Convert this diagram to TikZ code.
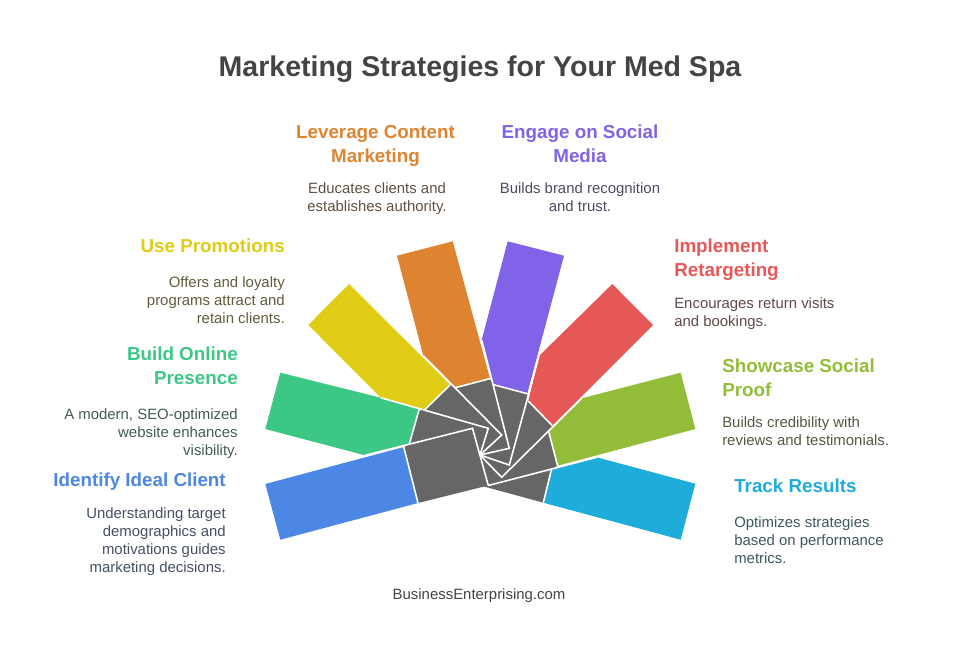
\documentclass[tikz,border=0pt]{standalone}
\usepackage{fontspec}
\setmainfont{Liberation Sans}
\usepackage{xcolor}
\definecolor{IdealBlue}{HTML}{4C87E6}
\definecolor{OnlineGreen}{HTML}{3DC785}
\definecolor{PromoYellow}{HTML}{E0CB15}
\definecolor{ContentOrange}{HTML}{DE8431}
\definecolor{SocialPurple}{HTML}{8063E8}
\definecolor{RetargetRed}{HTML}{E65856}
\definecolor{ProofLime}{HTML}{93BD39}
\definecolor{TrackCyan}{HTML}{1EACDB}
\definecolor{HubGray}{HTML}{666666}
\definecolor{TitleGray}{HTML}{444444}
\tikzset{
  spoke/.style={draw=white,line width=1.2pt,line join=miter},
  headline/.style={font=\fontsize{14.1}{18}\selectfont\bfseries,inner sep=0pt,text=#1},
  bodytext/.style={font=\fontsize{11.2}{13.5}\selectfont,inner sep=0pt,text=#1!18!TitleGray},
}
\begin{document}
\begin{tikzpicture}[x=0.75pt,y=-0.75pt]
  \useasboundingbox (0,0) rectangle (960,660);
  % coloured blades
  \fill[IdealBlue] (265.3,484) -- (404,447) -- (418,503) -- (280.3,539.7) -- cycle;
  \fill[OnlineGreen] (280.3,372.7) -- (380.7,397.7) -- (419,409) -- (409,444) -- (365,455.3) -- (265.3,429) -- cycle;
  \fill[PromoYellow] (349,284) -- (450,384.5) -- (425,409.5) -- (380.7,397.7) -- (308.3,325) -- cycle;
  \fill[ContentOrange] (397,255.7) -- (452.7,241.3) -- (490,378.5) -- (456,387.5) -- (423.3,355.7) -- cycle;
  \fill[SocialPurple] (507.7,241.3) -- (564,255.7) -- (527.3,393.5) -- (492.7,384.5) -- (481.7,340) -- cycle;
  \fill[RetargetRed] (612.3,284) -- (653,325) -- (552.3,425.7) -- (528.3,401) -- (539,356) -- cycle;
  \fill[ProofLime] (680.7,372.7) -- (695.3,429) -- (557.7,465.7) -- (549,431.7) -- (581.7,398.3) -- cycle;
  \fill[TrackCyan] (596.7,457.3) -- (695.3,483.7) -- (680.7,539.7) -- (543.3,502.7) -- (551.7,469.3) -- cycle;
  % grey hub
  \fill[HubGray] (418,503) -- (404,447) -- (409,444) -- (419,409) -- (425,409.5) -- (450,384.5) -- (456,387.5) -- (490,378.5)
    -- (492.7,384.5) -- (527.3,393.5) -- (528.3,401) -- (552.3,425.7) -- (549,431.7) -- (557.7,465.7) -- (551.7,469.3)
    -- (543.3,502.7) -- (484,486.5) -- cycle;
  % white spiral lines, each from a blade to the middle
  \draw[spoke] (365,455.3) -- (472.5,428.3) -- (488.3,485.5);
  \draw[spoke] (380.7,397.7) -- (488.3,428.3) -- (480,455);
  \draw[spoke] (423.3,355.7) -- (501.7,435) -- (480,455);
  \draw[spoke] (481.7,340) -- (509.3,448.3) -- (480,455);
  \draw[spoke] (539,356) -- (509.3,465) -- (480,455);
  \draw[spoke] (581.7,398.3) -- (501.7,477.3) -- (480,455);
  \draw[spoke] (596.7,457.3) -- (488.3,485.5);
  % edges between hub and blades
  \draw[spoke] (403.5,446) -- (418,503);
  \draw[spoke] (419.3,409) -- (409.3,444);
  \draw[spoke] (425,409.5) -- (450,385);
  \draw[spoke] (456,387.5) -- (490.5,378.5);
  \draw[spoke] (492.7,384.5) -- (527.3,393.7);
  \draw[spoke] (528.3,401) -- (552.3,425.7);
  \draw[spoke] (548.5,431) -- (557.7,466);
  \draw[spoke] (551.7,468.5) -- (543.3,502.7);
  % texts
  \node[anchor=center,font=\fontsize{21.4}{26}\selectfont\bfseries,text=TitleGray,inner sep=0pt](title) at (480,69) {Marketing Strategies for Your Med Spa};
  \node[headline=ContentOrange,anchor=north,align=center](contenthead) at (375.5,125) {Leverage Content\\Marketing};
  \node[bodytext=ContentOrange,anchor=north,align=center](contentbody) at (377,182) {Educates clients and\\establishes authority.};
  \node[headline=SocialPurple,anchor=north,align=center](socialhead) at (580,125) {Engage on Social\\Media};
  \node[bodytext=SocialPurple,anchor=north,align=center](socialbody) at (580,182) {Builds brand recognition\\and trust.};
  \node[headline=PromoYellow,anchor=north east,align=right](promohead) at (285,239) {Use Promotions};
  \node[bodytext=PromoYellow,anchor=north east,align=right](promobody) at (285,276) {Offers and loyalty\\programs attract and\\retain clients.};
  \node[headline=RetargetRed,anchor=north west,align=left](retargethead) at (674,239) {Implement\\Retargeting};
  \node[bodytext=RetargetRed,anchor=north west,align=left](retargetbody) at (674,297) {Encourages return visits\\and bookings.};
  \node[headline=OnlineGreen,anchor=north east,align=right](onlinehead) at (238,347) {Build Online\\Presence};
  \node[bodytext=OnlineGreen,anchor=north east,align=right](onlinebody) at (238,408) {A modern, SEO-optimized\\website enhances\\visibility.};
  \node[headline=ProofLime,anchor=north west,align=left](proofhead) at (722,359) {Showcase Social\\Proof};
  \node[bodytext=ProofLime,anchor=north west,align=left](proofbody) at (722,416) {Builds credibility with\\reviews and testimonials.};
  \node[headline=IdealBlue,anchor=north east,align=right](idealhead) at (226,473) {Identify Ideal Client};
  \node[bodytext=IdealBlue,anchor=north east,align=right](idealbody) at (226,507) {Understanding target\\demographics and\\motivations guides\\marketing decisions.};
  \node[headline=TrackCyan,anchor=north west,align=left](trackhead) at (734,479) {Track Results};
  \node[bodytext=TrackCyan,anchor=north west,align=left](trackbody) at (734,516) {Optimizes strategies\\based on performance\\metrics.};
  \node[bodytext=TitleGray,anchor=center](footer) at (479,596) {BusinessEnterprising.com};
\end{tikzpicture}
\end{document}
